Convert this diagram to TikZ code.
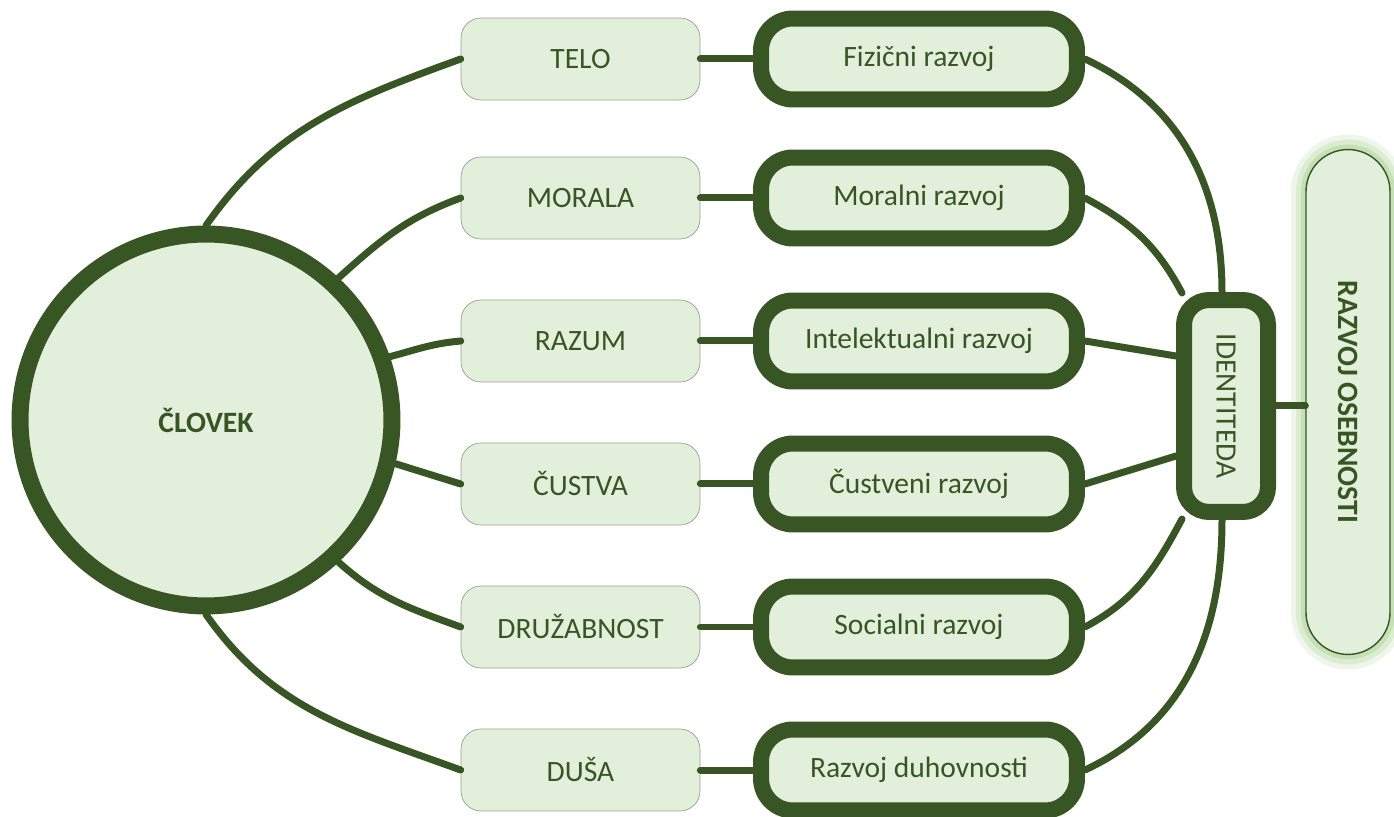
\documentclass[tikz,border=0pt]{standalone}
\usepackage{fontspec}
\setmainfont{Carlito}
\usepackage{graphicx}
\usetikzlibrary{positioning}

\definecolor{dkgreen}{HTML}{375623}
\definecolor{ltgreen}{HTML}{E2EFDA}
\definecolor{edgegray}{HTML}{90A68B}
\definecolor{glowgreen}{HTML}{C5E0B4}

\tikzset{
  txt/.style={text=dkgreen, font=\fontsize{16.8}{20}\selectfont},
  part/.style={txt, draw=edgegray, thin, fill=ltgreen, rounded corners=0.4cm,
    minimum width=4.78cm, minimum height=1.64cm},
  growth/.style={txt, draw=dkgreen, line width=0.32cm, fill=ltgreen, rounded corners=0.64cm,
    minimum width=6.32cm, minimum height=1.62cm},
  goal/.style={txt, draw=dkgreen, line width=0.8pt, fill=ltgreen, rounded corners=0.84cm,
    minimum width=1.68cm, minimum height=10.1cm,
    preaction={draw=glowgreen, line width=0.6cm, opacity=0.3},
    preaction={draw=glowgreen, line width=0.4cm, opacity=0.45},
    preaction={draw=glowgreen, line width=0.2cm}},
  link/.style={draw=dkgreen, line width=0.14cm, line cap=round},
}

\begin{document}
\begin{tikzpicture}[x=0.02cm, y=0.02cm]
  \useasboundingbox (0,0) rectangle (1394,-817);
  % Center
  \node[txt, circle, draw=dkgreen, line width=0.34cm, fill=ltgreen, minimum size=7.44cm,
    font=\fontsize{16.8}{20}\selectfont\bfseries] (clovek) at (206,-420) {ČLOVEK};
  % Parts of a person
  \node[part] (telo) at (580.5,-59) {TELO};
  \node[part] (morala) at (580.5,-198) {MORALA};
  \node[part] (razum) at (580.5,-341) {RAZUM};
  \node[part] (custva) at (580.5,-484) {ČUSTVA};
  \node[part] (druz) at (580.5,-627) {DRUŽABNOST};
  \node[part] (dusa) at (580.5,-770) {DUŠA};
  % Development
  \node[growth] (fiz) at (919,-59) {Fizični razvoj};
  \node[growth] (mor) at (919,-198) {Moralni razvoj};
  \node[growth] (int) at (919,-341) {Intelektualni razvoj};
  \node[growth] (cus) at (919,-484) {Čustveni razvoj};
  \node[growth] (soc) at (919,-627) {Socialni razvoj};
  \node[growth] (duh) at (919,-770) {Razvoj duhovnosti};
  % Identity and personality
  \node[txt, draw=dkgreen, line width=0.32cm, fill=ltgreen, rounded corners=0.5cm,
    minimum width=1.68cm, minimum height=4.24cm] (iden) at (1226,-406) {\rotatebox{-90}{IDENTITEDA}};
  \node[goal] (osebnost) at (1348,-402) {\rotatebox{-90}{\bfseries RAZVOJ OSEBNOSTI}};
  % Links from the person
  \draw[link] (clovek.90) to[out=55, in=200] (telo.west);
  \draw[link] (clovek.47) to[out=42, in=200] (morala.west);
  \draw[link] (clovek.19) to[out=15, in=185] (razum.west);
  \draw[link] (clovek.-13) -- (custva.west);
  \draw[link] (clovek.-47) to[out=-42, in=160] (druz.west);
  \draw[link] (clovek.-90) to[out=-55, in=160] (dusa.west);
  % Parts to development
  \draw[link] (telo.east) -- (fiz.west);
  \draw[link] (morala.east) -- (mor.west);
  \draw[link] (razum.east) -- (int.west);
  \draw[link] (custva.east) -- (cus.west);
  \draw[link] (druz.east) -- (soc.west);
  \draw[link] (dusa.east) -- (duh.west);
  % Development to identity
  \draw[link] (fiz.east) to[out=-25, in=90] ([xshift=-0.08cm]iden.north);
  \draw[link] (mor.east) to[out=-28, in=118] ([shift={(0.12cm,-0.02cm)}]iden.north west);
  \draw[link] (int.east) -- ([yshift=1cm]iden.west);
  \draw[link] (cus.east) -- ([yshift=-1cm]iden.west);
  \draw[link] (soc.east) to[out=28, in=-118] ([shift={(0.12cm,0.02cm)}]iden.south west);
  \draw[link] (duh.east) to[out=25, in=-90] ([xshift=-0.08cm]iden.south);
  \draw[link] (iden.east) -- (osebnost.west |- iden.east);
\end{tikzpicture}
\end{document}
